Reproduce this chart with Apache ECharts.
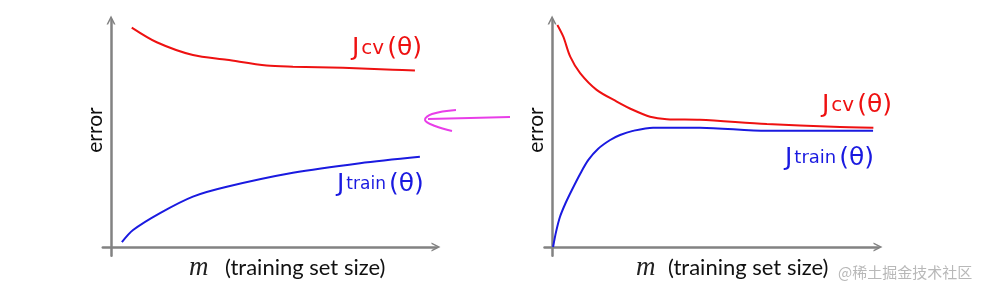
<!DOCTYPE html>
<html><head><meta charset="utf-8">
<script src="https://cdn.jsdelivr.net/npm/echarts@6/dist/echarts.min.js"></script>
<style>html,body{margin:0;padding:0;background:#fff}#c{width:1004px;height:294px}</style>
</head><body><div id="c"></div>
<script>
// Left panel (high bias)
const leftCvX = [6.3, 13.9, 24.9, 35.2, 47.3, 55.3, 70.5, 85.7, 92.4];
const leftCvY = [95.8, 89.4, 83.8, 81.7, 79.2, 78.7, 78.2, 77.4, 77.0];
const leftTrainX = [3.3, 6.7, 14.9, 24.9, 35.2, 55.3, 75.7, 93.9];
const leftTrainY = [2.1, 7.4, 14.8, 22.0, 26.3, 32.4, 36.6, 39.4];
// Right panel
const rightCvX = [1.6, 3.4, 5.5, 8.5, 13.5, 19.6, 24.6, 29.7, 34.8, 44.8, 65.1, 85.2, 97.4];
const rightCvY = [96.9, 91.8, 83.1, 75.9, 68.6, 63.5, 59.8, 56.9, 55.8, 55.5, 53.7, 52.5, 52.1];
const rightTrainX = [0.3, 1.2, 2.4, 4.1, 6.0, 8.5, 11.0, 13.9, 17.6, 20.6, 24.5, 30.6, 44.8, 65.1, 97.3];
const rightTrainY = [0.0, 6.6, 13.2, 19.2, 24.9, 31.9, 38.0, 42.8, 46.7, 48.9, 50.7, 52.1, 52.1, 50.7, 50.7];

const yName = 'error';
const xName = '(training set size)';
const xVar = 'm';

const zip = (xs, ys) => xs.map((x, i) => [x, ys[i]]);
const RED = '#ee1111', BLUE = '#1a1ae0', AX = '#828282';
const CHEVRON = 'path://M0,10 L5,0 L10,10 L8.2,10 L5,3.6 L1.8,10 Z';

function axis(idx, min, max) {
  return {
    type: 'value', gridIndex: idx, min: min, max: max,
    axisLine: { show: true, onZero: true, symbol: ['none', CHEVRON], symbolSize: [12, 9],
      lineStyle: { color: AX, width: 2.5 } },
    axisTick: { show: false }, axisLabel: { show: false }, splitLine: { show: false }
  };
}
function line(idx, data, color) {
  return { type: 'line', xAxisIndex: idx, yAxisIndex: idx, data, smooth: 0.3,
    showSymbol: false, lineStyle: { color, width: 2 }, silent: true };
}
function jLabel(x, y, sub, color, subSize) {
  const f = 'DejaVu Sans';
  return { type: 'text', left: x, top: y, style: {
    text: '{j|J}{s|' + sub + '}{p|(θ)}',
    rich: { j: { fontSize: 25, fontFamily: f, fill: color, padding: [0, 2, 0, 0] },
            s: { fontSize: subSize, fontFamily: f, fill: color, padding: [0, 3, 0, 0] },
            p: { fontSize: 25, fontFamily: f, fill: color } } } };
}
function axisTexts(ox, mx, tx) {
  return [
    { type: 'text', x: ox - 16, y: 130, rotation: Math.PI / 2, style: { text: yName, fontSize: 21,
      fontFamily: 'Lato', fill: '#111', align: 'center', verticalAlign: 'middle' } },
    { type: 'text', x: mx, y: 268, style: { text: xVar, fontSize: 27, fontStyle: 'italic',
      fontFamily: 'Liberation Serif', fill: '#222', verticalAlign: 'middle' } },
    { type: 'text', x: tx, y: 268, style: { text: xName, fontSize: 22,
      fontFamily: 'Lato', fill: '#111', verticalAlign: 'middle' } }
  ];
}

const chart = echarts.init(document.getElementById('c'), null, { renderer: 'canvas' });
chart.setOption({
  backgroundColor: '#fff',
  animation: false,
  grid: [
    { left: 102.8, top: 20, width: 333.2, height: 235.7 },
    { left: 544.5, top: 20, width: 333.5, height: 235.7 }
  ],
  xAxis: [axis(0, -2.5, 98.8), axis(1, -2.3, 98.8)],
  yAxis: [axis(0, -3.8, 99.1), axis(1, -3.8, 99.1)],
  series: [
    line(0, zip(leftCvX, leftCvY), RED),
    line(0, zip(leftTrainX, leftTrainY), BLUE),
    line(1, zip(rightCvX, rightCvY), RED),
    line(1, zip(rightTrainX, rightTrainY), BLUE)
  ],
  graphic: [
    jLabel(352, 36, 'cv', RED, 20),
    jLabel(337, 172, 'train', BLUE, 17),
    jLabel(822, 93, 'cv', RED, 20),
    jLabel(785, 146, 'train', BLUE, 18),
    ...axisTexts(111, 189, 225),
    ...axisTexts(552, 636, 668),
    { type: 'polyline', shape: { points: [[510, 117], [470, 118], [428, 119]] },
      style: { stroke: '#e83ee8', lineWidth: 2, fill: null } },
    { type: 'polyline', shape: { points: [[456, 110], [432, 114], [425, 120], [435, 126], [452, 131]], smooth: 0.4 },
      style: { stroke: '#e83ee8', lineWidth: 2, fill: null } },
    { type: 'text', x: 838, y: 272, style: { text: '@稀土掘金技术社区', fontSize: 15,
      fontFamily: 'Noto Sans CJK SC', fill: '#b8b8b8', verticalAlign: 'middle' } }
  ]
});
</script></body></html>
